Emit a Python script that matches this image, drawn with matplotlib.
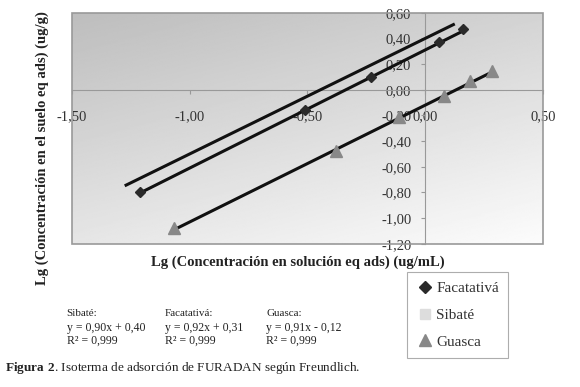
import matplotlib.pyplot as plt
import numpy as np
from matplotlib.lines import Line2D
from matplotlib.patches import Rectangle

# Freundlich isotherm data (log values)
fac_x = [-1.21, -0.51, -0.23, 0.06, 0.16]
fac_y = [-0.80, -0.16, 0.10, 0.37, 0.47]
gua_x = [-1.065, -0.38, -0.11, 0.08, 0.19, 0.285]
gua_y = [-1.08, -0.48, -0.21, -0.05, 0.07, 0.15]
sib_x = [-1.27, 0.12]  # Sibaté markers not visible, only the trend line

# trend line coefficients (slope, intercept)
fits = {'Sibaté': (0.90, 0.40), 'Facatativá': (0.92, 0.31), 'Guasca': (0.91, -0.12)}
r2 = {'Sibaté': '0,999', 'Facatativá': '0,999', 'Guasca': '0,999'}

plt.rcParams['font.family'] = ['Liberation Serif', 'DejaVu Serif']
plt.rcParams['mathtext.fontset'] = 'custom'
plt.rcParams['mathtext.rm'] = 'Liberation Serif'
plt.rcParams['mathtext.bf'] = 'Liberation Serif:bold'


def fmt(v):
    return ('%.2f' % v).replace('.', ',')


fig = plt.figure(figsize=(5.8, 3.87), dpi=100)
ax = fig.add_axes([0.124, 0.37, 0.812, 0.597])
ax.set_xlim(-1.5, 0.5)
ax.set_ylim(-1.2, 0.6)

# gradient background of the plot area (dark top-left -> light bottom-right)
g = np.linspace(0, 1, 200)
grad = (0.35 * g[None, :] + 0.65 * g[:, None])
ax.imshow(grad, extent=[0, 1, 0, 1], transform=ax.transAxes, cmap='gray',
          vmin=-3.0, vmax=1.05, aspect='auto', origin='upper', zorder=0)

# trend lines
for name, xs in [('Sibaté', sib_x), ('Facatativá', fac_x), ('Guasca', gua_x)]:
    m, b = fits[name]
    xx = np.array([min(xs), max(xs)])
    ax.plot(xx, m * xx + b, color='#111111', lw=2.2, zorder=3)

ax.plot(fac_x, fac_y, ls='none', marker='D', ms=5.5, color='#2a2a2a', zorder=4)
ax.plot(gua_x, gua_y, ls='none', marker='^', ms=8, color='#888888', zorder=4)

# axes crossing at zero
for s in ['top', 'right']:
    ax.spines[s].set_visible(False)
ax.spines['left'].set_position(('data', 0))
ax.spines['bottom'].set_position(('data', 0))
ax.spines['left'].set_color('#999999')
ax.spines['bottom'].set_color('#999999')
ax.add_patch(Rectangle((0, 0), 1, 1, transform=ax.transAxes, fill=False,
                       ec='#999999', lw=1.2, clip_on=False, zorder=5))

xt = [-1.5, -1.0, -0.5, 0.0, 0.5]
yt = [-1.2, -1.0, -0.8, -0.6, -0.4, -0.2, 0.0, 0.2, 0.4, 0.6]
ax.set_xticks(xt)
ax.set_xticklabels([fmt(v) for v in xt])
ax.set_yticks(yt)
ax.set_yticklabels([fmt(v) for v in yt])
ax.tick_params(axis='both', labelsize=10.5, colors='#999999', labelcolor='#333333',
               length=3, direction='out')
ax.tick_params(axis='x', pad=12)
ax.tick_params(axis='y', pad=7)

fig.text(0.513, 0.322, 'Lg (Concentración en solución eq ads) (ug/mL)',
         ha='center', va='center', fontsize=10.5, fontweight='bold', color='#222222')
fig.text(0.072, 0.617, 'Lg (Concentración en el suelo eq ads) (ug/g)',
         ha='center', va='center', rotation=90, fontsize=10.5, fontweight='bold',
         color='#222222')

# legend
handles = [Line2D([], [], ls='none', marker='D', ms=6, color='#2a2a2a'),
           Line2D([], [], ls='none', marker='s', ms=7, color='#dddddd'),
           Line2D([], [], ls='none', marker='^', ms=8, color='#888888')]
leg = fig.legend(handles, ['Facatativá', 'Sibaté', 'Guasca'],
                 loc='upper left', bbox_to_anchor=(0.702, 0.296), borderaxespad=0,
                 fontsize=11, frameon=True, fancybox=False, edgecolor='#999999',
                 handletextpad=0.1, handlelength=1.2, labelspacing=0.85,
                 borderpad=0.6)
leg.get_frame().set_linewidth(0.8)
for t in leg.get_texts():
    t.set_color('#333333')

# equations
cols = [('Sibaté', 0.115), ('Facatativá', 0.284), ('Guasca', 0.459)]
for name, xpos in cols:
    m, b = fits[name]
    if b >= 0:
        eq = 'y = %sx + %s' % (fmt(m), fmt(b))
    else:
        eq = 'y = %sx - %s' % (fmt(m), fmt(-b))
    fig.text(xpos, 0.19, name + ':', fontsize=8, color='#222222', va='center')
    fig.text(xpos, 0.152, eq, fontsize=8.5, color='#222222', va='center')
    fig.text(xpos, 0.119, 'R\u00b2 = ' + r2[name], fontsize=8.5, color='#222222',
             va='center')

fig.text(0.009, 0.048, r'$\mathbf{Figura\ 2}$. Isoterma de adsorción de FURADAN según Freundlich.',
         fontsize=9.5, color='#222222', va='center')

fig.savefig('out.png', dpi=100)
